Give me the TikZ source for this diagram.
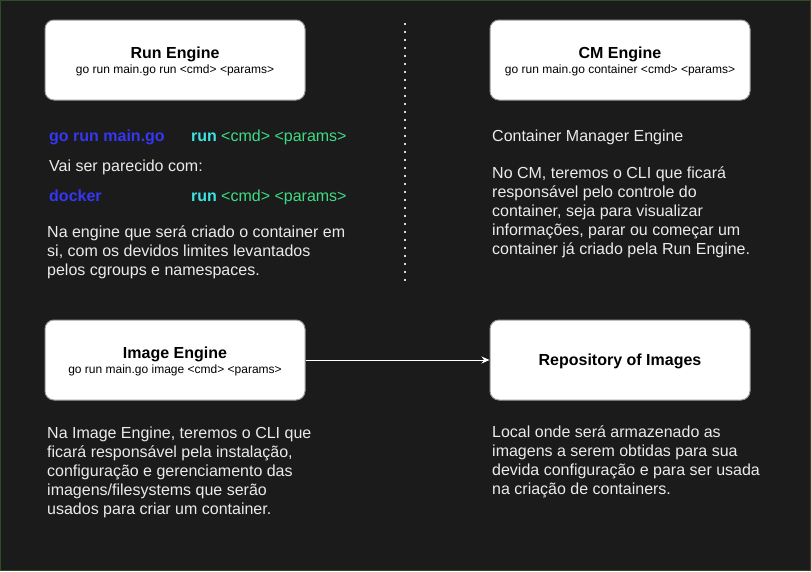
\documentclass[tikz,border=0pt]{standalone}
\usepackage{fontspec}
\setmainfont{Liberation Sans}
\usetikzlibrary{arrows.meta}
\definecolor{bgc}{HTML}{1B1B1B}
\definecolor{framec}{HTML}{2E4D22}
\definecolor{boxline}{HTML}{9A9A9A}
\definecolor{goblue}{HTML}{3636F5}
\definecolor{runcyan}{HTML}{3FE3E3}
\definecolor{argsgreen}{HTML}{3DDC84}
\definecolor{txt}{HTML}{EBEBEB}
\tikzset{
  engine/.style={draw=boxline, line width=1pt, fill=white, rounded corners=9pt,
    minimum width=260pt, minimum height=80pt, inner sep=0pt},
  boxtext/.style={align=center, inner sep=0pt, text=black,
    font=\fontsize{12}{15}\selectfont},
  para/.style={anchor=north west, align=left, inner sep=0pt, text=txt,
    font=\fontsize{16}{19}\selectfont},
  oneline/.style={anchor=base west, inner sep=0pt, text=txt,
    font=\fontsize{16}{19}\selectfont},
}
\begin{document}
\begin{tikzpicture}[x=1pt,y=-1pt]
\useasboundingbox (0,0) rectangle (811,571);
\fill[bgc] (0,0) rectangle (811,571);
\draw[framec, line width=1pt] (0.5,0.5) rectangle (810.5,570.5);

% boxes
\node[engine] (run) at (175,60) {};
\node[engine] (cm) at (620,60) {};
\node[engine] (img) at (175,360) {};
\node[engine] (repo) at (620,360) {};
\node[boxtext] (runt) at ([yshift=-1.8pt]run.center) {{\fontsize{16}{19}\selectfont\bfseries Run Engine}\\go run main.go run <cmd> <params>};
\node[boxtext] (cmt) at ([yshift=-1.8pt]cm.center) {{\fontsize{16}{19}\selectfont\bfseries CM Engine}\\go run main.go container <cmd> <params>};
\node[boxtext] (imgt) at ([yshift=-1.8pt]img.center) {{\fontsize{16}{19}\selectfont\bfseries Image Engine}\\go run main.go image <cmd> <params>};
\node[boxtext] (repot) at ([yshift=-1.8pt]repo.center) {{\fontsize{16}{19}\selectfont\bfseries Repository of Images}};

\draw[white, line width=1pt, -{Stealth[length=8pt,width=7pt]}] (img.east) -- (repo.west);

% divider
\coordinate (d1) at (405,23);
\coordinate (d2) at (405,281);
\draw[white!85!black, line width=2pt, dash pattern=on 2pt off 6pt] (d1) -- (d2);

% left column
\node[oneline, font=\fontsize{16}{19}\selectfont\bfseries, text=goblue] (gorun) at (49,141.5) {go run main.go};
\node[oneline, font=\fontsize{16}{19}\selectfont\bfseries, text=runcyan] (run1) at (191,141.5) {run};
\node[oneline, text=argsgreen] (args1) at (221,141.5) {<cmd> <params>};
\node[oneline] (vai) at (49,171.5) {Vai ser parecido com:};
\node[oneline, font=\fontsize{16}{19}\selectfont\bfseries, text=goblue] (docker) at (49,201.5) {docker};
\node[oneline, font=\fontsize{16}{19}\selectfont\bfseries, text=runcyan] (run2) at (191,201.5) {run};
\node[oneline, text=argsgreen] (args2) at (221,201.5) {<cmd> <params>};
\node[para] (p1) at (47,224) {\strut Na engine que será criado o container em\\si, com os devidos limites levantados\\pelos cgroups e namespaces.};

% right column
\node[oneline] (cme) at (492,141.5) {Container Manager Engine};
\node[para] (p2) at (492,165) {\strut No CM, teremos o CLI que ficará\\responsável pelo controle do\\container, seja para visualizar\\informações, parar ou começar um\\container já criado pela Run Engine.};

% bottom
\node[para] (p3) at (47,425) {\strut Na Image Engine, teremos o CLI que\\ficará responsável pela instalação,\\configuração e gerenciamento das\\imagens/filesystems que serão\\usados para criar um container.};
\node[para] (p4) at (492,424) {\strut Local onde será armazenado as\\imagens a serem obtidas para sua\\devida configuração e para ser usada\\na criação de containers.};
\end{tikzpicture}
\end{document}
